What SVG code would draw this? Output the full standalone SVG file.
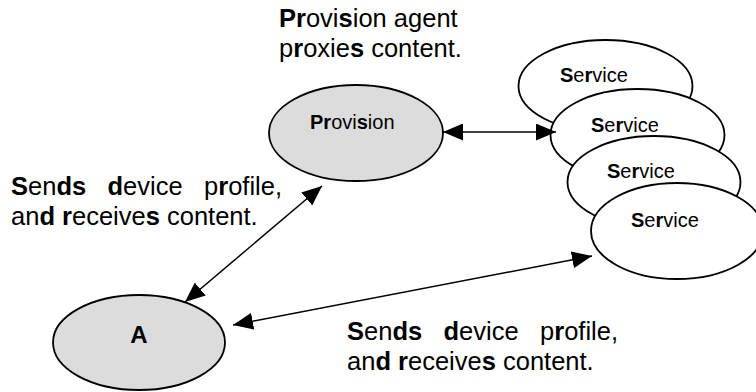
<svg xmlns="http://www.w3.org/2000/svg" width="756" height="392" viewBox="0 0 756 392">
  <style>
    text { font-family: "Liberation Sans", Arial, Helvetica, sans-serif; fill: #000; }
    .note { font-size: 25.5px; }
    .lbl { font-size: 20px; }
    .b { font-weight: bold; }
    .node-gray { fill: #dcdcdc; stroke: #000; stroke-width: 1.8; }
    .node-white { fill: #fff; stroke: #000; stroke-width: 1.8; }
    .conn { fill: none; stroke: #000; stroke-width: 1.5; marker-start: url(#arrow); marker-end: url(#arrow); }
  </style>
  <defs>
    <marker id="arrow" viewBox="0 0 20 17" refX="20" refY="8.5" markerWidth="20" markerHeight="17" markerUnits="userSpaceOnUse" orient="auto-start-reverse">
      <path d="M0,0 L20,8.5 L0,17 z" fill="#000"/>
    </marker>
  </defs>

  <g id="note-provision">
    <text class="note" x="279" y="27"><tspan class="b">Pr</tspan>ovi<tspan class="b">s</tspan>ion agent</text>
    <text class="note" x="279" y="57">p<tspan class="b">r</tspan>oxie<tspan class="b">s</tspan> content.</text>
  </g>

  <g id="note-left">
    <text class="note" y="195"><tspan x="11"><tspan class="b">S</tspan>en<tspan class="b">ds</tspan></tspan><tspan x="107.5"><tspan class="b">d</tspan>evice</tspan><tspan x="204">p<tspan class="b">r</tspan>ofile,</tspan></text>
    <text class="note" x="11" y="225">an<tspan class="b">d</tspan> <tspan class="b">r</tspan>eceive<tspan class="b">s</tspan> content.</text>
  </g>

  <g id="note-bottom">
    <text class="note" y="340"><tspan x="347"><tspan class="b">S</tspan>en<tspan class="b">ds</tspan></tspan><tspan x="443.5"><tspan class="b">d</tspan>evice</tspan><tspan x="540">p<tspan class="b">r</tspan>ofile,</tspan></text>
    <text class="note" x="347" y="370">an<tspan class="b">d</tspan> <tspan class="b">r</tspan>eceive<tspan class="b">s</tspan> content.</text>
  </g>

  <g id="service-1">
    <ellipse class="node-white" cx="605.5" cy="86" rx="87" ry="46"/>
    <text class="lbl" x="560" y="82"><tspan class="b">S</tspan>e<tspan class="b">r</tspan>vice</text>
  </g>
  <g id="service-2">
    <ellipse class="node-white" cx="637.5" cy="135" rx="87" ry="46"/>
    <text class="lbl" x="591" y="132"><tspan class="b">S</tspan>e<tspan class="b">r</tspan>vice</text>
  </g>
  <g id="service-3">
    <ellipse class="node-white" cx="654" cy="182" rx="86.5" ry="46"/>
    <text class="lbl" x="607" y="178"><tspan class="b">S</tspan>e<tspan class="b">r</tspan>vice</text>
  </g>
  <g id="service-4">
    <ellipse class="node-white" cx="677" cy="231" rx="86" ry="48"/>
    <text class="lbl" x="631" y="227"><tspan class="b">S</tspan>e<tspan class="b">r</tspan>vice</text>
  </g>

  <g id="provision">
    <ellipse class="node-gray" cx="356" cy="133" rx="87" ry="48"/>
    <text class="lbl" x="310" y="129"><tspan class="b">Pr</tspan>ovi<tspan class="b">s</tspan>ion</text>
  </g>

  <g id="node-a">
    <ellipse class="node-gray" cx="139" cy="342.5" rx="86" ry="47.5"/>
    <text class="lbl b" x="139" y="343" font-size="24" text-anchor="middle" style="font-size:24px">A</text>
  </g>

  <g id="connectors">
    <path class="conn" d="M443,132 L556,132"/>
    <path class="conn" d="M185,302 L322,186"/>
    <path class="conn" d="M233,325 L592,256"/>
  </g>
</svg>
